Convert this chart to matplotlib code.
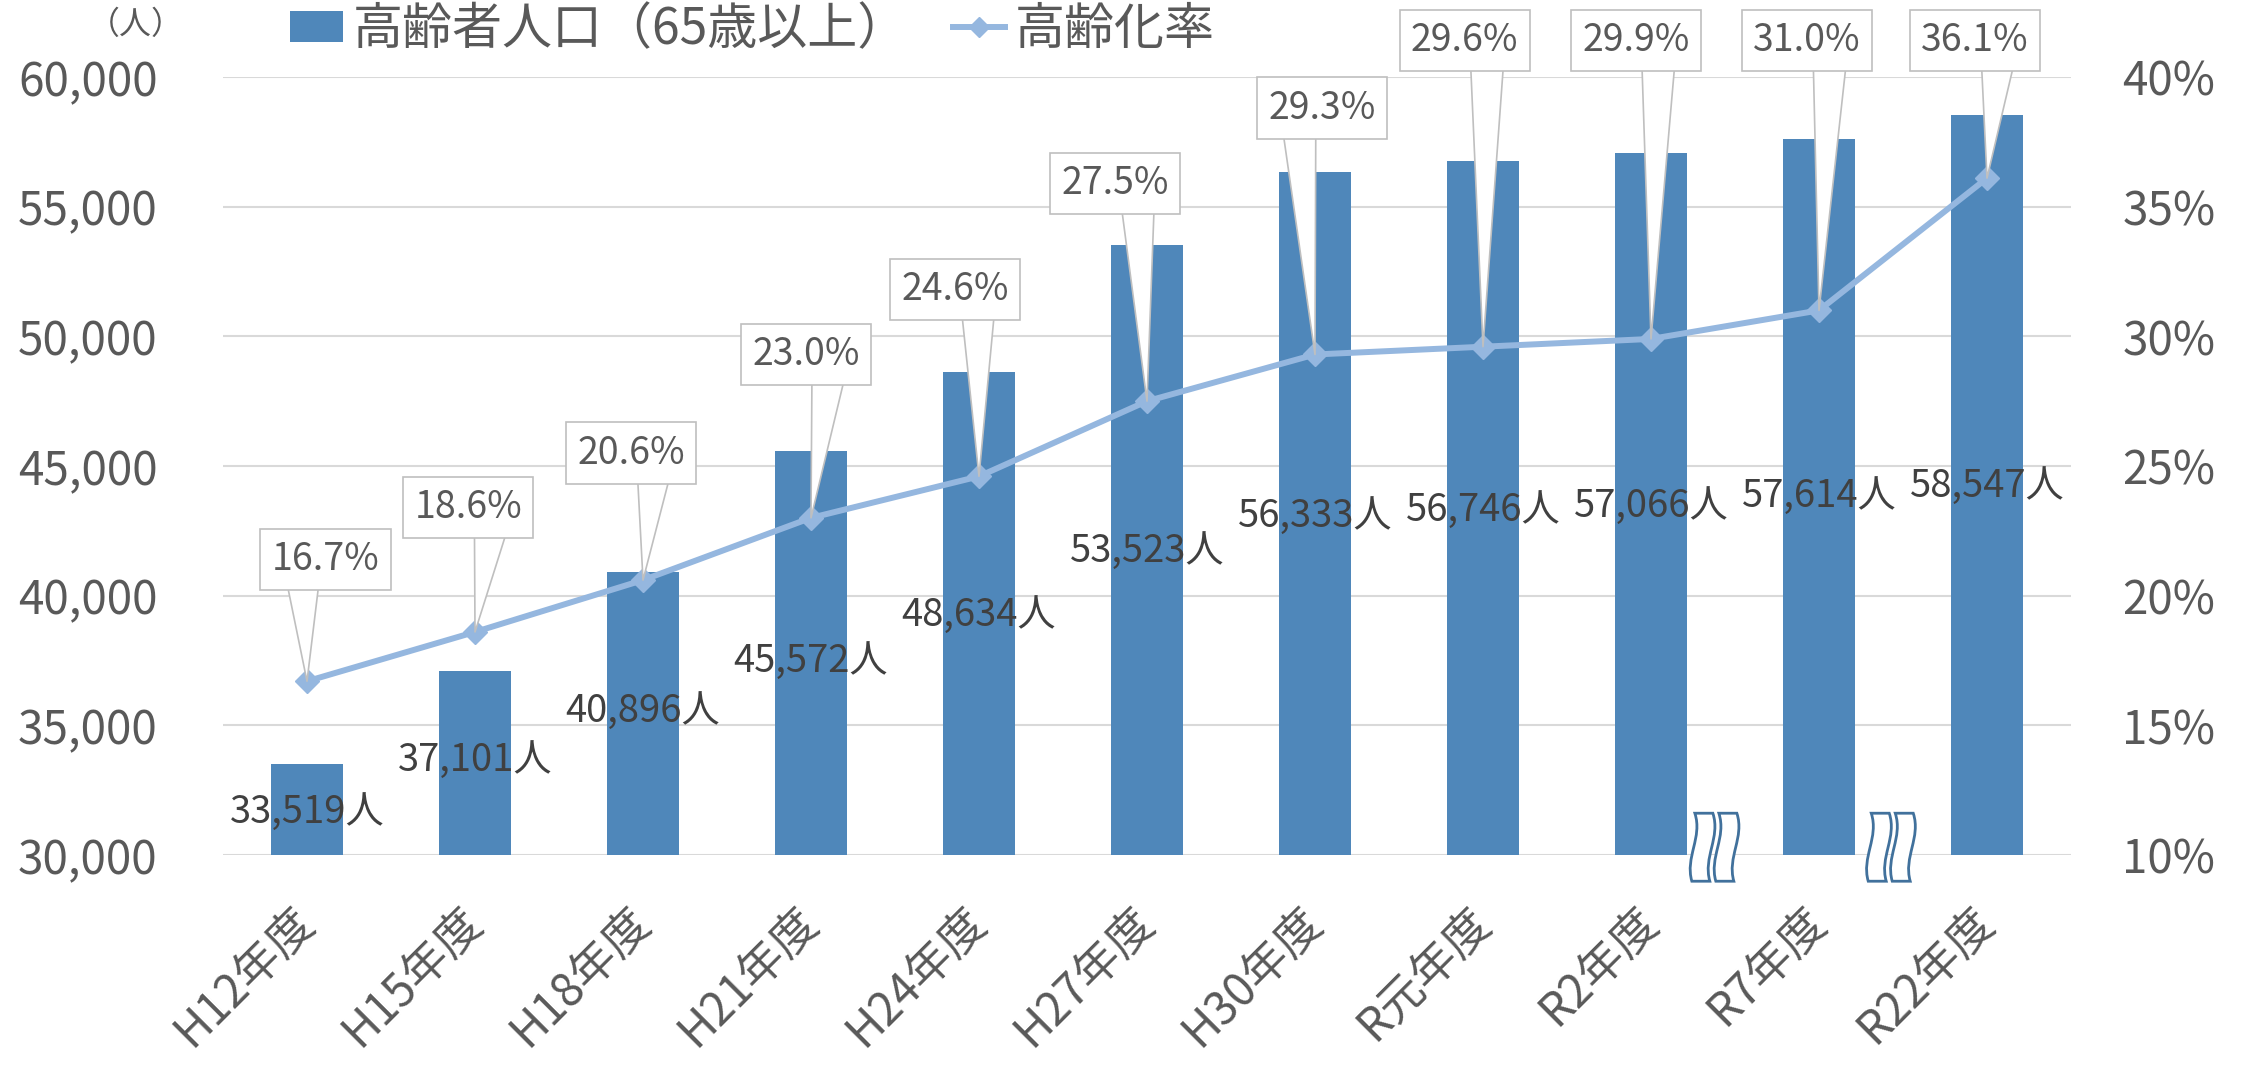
import matplotlib.pyplot as plt
import matplotlib.transforms as mtransforms
from matplotlib.path import Path
from matplotlib.patches import PathPatch, Patch
from matplotlib.lines import Line2D
from matplotlib.ticker import FuncFormatter, MultipleLocator

plt.rcParams['font.family'] = ['Noto Sans CJK JP', 'DejaVu Sans']

# data
years = ['H12年度', 'H15年度', 'H18年度', 'H21年度', 'H24年度', 'H27年度',
         'H30年度', 'R元年度', 'R2年度', 'R7年度', 'R22年度']
elderly = [33519, 37101, 40896, 45572, 48634, 53523, 56333, 56746, 57066, 57614, 58547]
rate = [16.7, 18.6, 20.6, 23.0, 24.6, 27.5, 29.3, 29.6, 29.9, 31.0, 36.1]

# label placement (layout only)
pop_label_y = [31660, 33630, 35550, 37480, 39250, 41720, 43070, 43280, 43460, 43840, 44230]
callout_dx = [0.11, -0.04, -0.07, -0.03, -0.14, -0.19, 0.04, -0.11, -0.09, -0.07, -0.07]
callout_y = [21.4, 23.4, 25.5, 29.3, 31.8, 35.9, 38.8, 41.4, 41.4, 41.4, 41.4]
break_x = [8.38, 9.43]

bar_color = '#4F87BA'
line_color = '#95B7DF'
text_color = '#595959'
grid_color = '#D9D9D9'

fig = plt.figure(figsize=(22.42, 10.66), dpi=100)
ax = fig.add_axes([223 / 2242, 1 - 855 / 1066, (2071 - 223) / 2242, (855 - 77) / 1066])
ax2 = ax.twinx()

x = list(range(len(years)))
ax.bar(x, elderly, width=0.43, color=bar_color, zorder=2)
ax.set_xlim(-0.5, len(years) - 0.5)
ax.set_ylim(30000, 60000)
ax.yaxis.set_major_locator(MultipleLocator(5000))
ax.yaxis.set_major_formatter(FuncFormatter(lambda v, p: f'{int(v):,}'))
ax.yaxis.grid(True, color=grid_color, lw=1.5)
ax.set_axisbelow(True)

ax.set_xticks(x)
ax.set_xticklabels(years, rotation=45, ha='right', va='center', rotation_mode='anchor')
ax.tick_params(axis='x', length=0, pad=43, labelsize=33, labelcolor=text_color)
ax.tick_params(axis='y', length=0, pad=47, labelsize=33, labelcolor=text_color)

for i, (v, ly) in enumerate(zip(elderly, pop_label_y)):
    ax.text(i, ly, f'{v:,}人', ha='center', va='center', fontsize=27.5,
            color='#404040', zorder=3)

ax2.plot(x, rate, color=line_color, lw=4.3, marker='D', ms=12, zorder=3)
ax2.set_ylim(10, 40)
ax2.yaxis.set_major_locator(MultipleLocator(5))
ax2.yaxis.set_major_formatter(FuncFormatter(lambda v, p: f'{int(v)}%'))
ax2.tick_params(axis='y', length=0, pad=37, labelsize=33, labelcolor=text_color)

for a in (ax, ax2):
    for s in a.spines.values():
        s.set_visible(False)

# callouts
for i, r in enumerate(rate):
    rel = 0.29 if callout_dx[i] > 0 else 0.71
    ax2.annotate(f'{r:.1f}%', xy=(i, r), xytext=(i + callout_dx[i], callout_y[i]),
                 textcoords='data', ha='center', va='center', fontsize=27,
                 color=text_color, zorder=6, annotation_clip=False,
                 bbox=dict(boxstyle='square,pad=0.3', fc='white', ec='#BFBFBF', lw=1.2),
                 arrowprops=dict(arrowstyle='wedge,tail_width=1.0,shrink_factor=0.5',
                                 fc='white', ec='#BFBFBF', lw=1.2, relpos=(rel, 0),
                                 patchA=None, shrinkA=0, shrinkB=0, mutation_scale=24))

# wavy break marks (drawn in pixel units)
def strip(cx):
    verts = [(cx - 8, 34), (cx + 10, 34),
             (cx + 18, 10), (cx + 0, -10), (cx + 7, -34),
             (cx - 11, -34),
             (cx - 18, -10), (cx + 0, 10), (cx - 8, 34),
             (cx - 8, 34)]
    codes = [Path.MOVETO, Path.LINETO,
             Path.CURVE4, Path.CURVE4, Path.CURVE4,
             Path.LINETO,
             Path.CURVE4, Path.CURVE4, Path.CURVE4,
             Path.CLOSEPOLY]
    return Path(verts, codes)

for bx in break_x:
    tr = mtransforms.Affine2D() + mtransforms.ScaledTranslation(bx, 30300, ax.transData)
    for cx in (-12, 12):
        ax.add_patch(PathPatch(strip(cx), transform=tr, fc='white', ec='#41719C',
                               lw=2, zorder=4, clip_on=False))

# unit label
fig.text(136 / 2242, 1 - 25 / 1066, '（人）', ha='center', va='center',
         fontsize=23, color=text_color)

handles = [Patch(facecolor=bar_color),
           Line2D([], [], color=line_color, lw=4.3, marker='D', ms=10)]
fig.legend(handles, ['高齢者人口（65歳以上）', '高齢化率'], ncol=2, loc='center left',
           bbox_to_anchor=(290 / 2242, 1 - 30 / 1066), frameon=False, fontsize=36,
           handlelength=1.05, handleheight=0.6, handletextpad=0.2, columnspacing=0.9,
           borderpad=0, borderaxespad=0, labelcolor=text_color)

fig.savefig('out.png', dpi=100)
